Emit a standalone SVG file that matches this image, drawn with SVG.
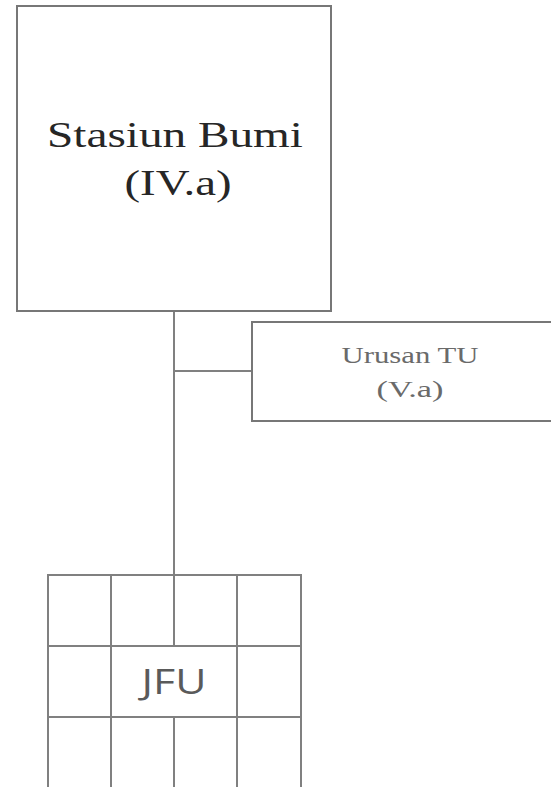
<svg xmlns="http://www.w3.org/2000/svg" width="551" height="787" viewBox="0 0 551 787">
<style>
.box{fill:#fff;stroke:#777;stroke-width:2}
.ln{stroke:#808080;stroke-width:2;fill:none}
.serif{font-family:"Liberation Serif","Times New Roman",serif;text-anchor:middle}
.t1{font-size:36px;fill:#262626}
.t2{font-size:24px;fill:#6a6a6a}
.sans{font-family:"Open Sans","Liberation Sans",sans-serif;text-anchor:middle;font-size:35px;fill:#5a5a5a}
</style>
<rect width="551" height="787" fill="#fff"/>
<g id="connectors">
<line class="ln" x1="174" y1="311" x2="174" y2="575"/>
<line class="ln" x1="174" y1="371" x2="252" y2="371"/>
</g>
<g id="stasiun-bumi">
<rect class="box" x="17" y="6" width="314" height="305"/>
<text class="serif t1" x="175" y="147" textLength="256" lengthAdjust="spacingAndGlyphs">Stasiun Bumi</text>
<text class="serif t1" x="178" y="195" textLength="107" lengthAdjust="spacingAndGlyphs">(IV.a)</text>
</g>
<g id="urusan-tu">
<path class="box" d="M552 322 H252 V421 H552"/>
<text class="serif t2" x="410" y="363" textLength="137" lengthAdjust="spacingAndGlyphs">Urusan TU</text>
<text class="serif t2" x="410" y="397" textLength="67" lengthAdjust="spacingAndGlyphs">(V.a)</text>
</g>
<g id="jfu">
<line class="ln" x1="48" y1="575" x2="301" y2="575"/>
<line class="ln" x1="48" y1="646" x2="301" y2="646"/>
<line class="ln" x1="48" y1="717" x2="301" y2="717"/>
<line class="ln" x1="48" y1="574" x2="48" y2="787"/>
<line class="ln" x1="111" y1="574" x2="111" y2="787"/>
<line class="ln" x1="174" y1="575" x2="174" y2="646"/>
<line class="ln" x1="174" y1="717" x2="174" y2="787"/>
<line class="ln" x1="237" y1="574" x2="237" y2="787"/>
<line class="ln" x1="301" y1="574" x2="301" y2="787"/>
<text class="sans" x="174" y="694" textLength="65" lengthAdjust="spacingAndGlyphs">JFU</text>
</g>
</svg>
